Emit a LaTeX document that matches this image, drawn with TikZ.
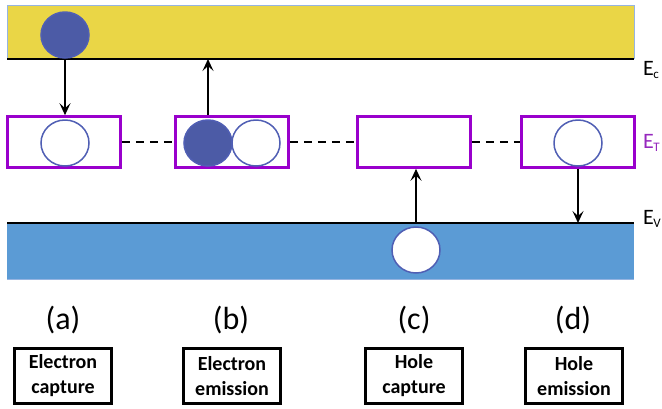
\documentclass[tikz,border=0pt]{standalone}
\usepackage{fontspec}
\setmainfont{Carlito}
\usetikzlibrary{arrows.meta,shapes.geometric}
\definecolor{bandyellow}{RGB}{234,214,70}
\definecolor{bandblue}{RGB}{91,155,213}
\definecolor{edgeblue}{RGB}{150,180,225}
\definecolor{elecfill}{RGB}{76,91,166}
\definecolor{elecline}{RGB}{80,95,180}
\definecolor{trapcol}{RGB}{153,0,204}
\definecolor{etcol}{RGB}{150,40,190}
\newcommand{\lvsub}[1]{\raisebox{-0.3ex}{\fontsize{13}{14}\selectfont #1}}
\tikzset{
  level/.style={line width=2.8pt, black},
  trapbox/.style={draw=trapcol, line width=2.6pt, minimum width=113pt, minimum height=51pt, inner sep=0pt, fill=white},
  hole/.style={ellipse, draw=elecline, line width=1.5pt, fill=white, minimum width=48pt, minimum height=46pt, inner sep=0pt},
  electron/.style={ellipse, draw=elecline, line width=1.5pt, fill=elecfill, minimum width=48pt, minimum height=46pt, inner sep=0pt},
  transition/.style={line width=2.2pt, -{Stealth[length=12pt,width=11pt,inset=5pt]}},
  trapline/.style={line width=2.6pt, dash pattern=on 8pt off 6pt},
  caselabel/.style={font=\fontsize{32}{36}\selectfont},
  kindbox/.style={draw, line width=2.2pt, minimum width=97pt, minimum height=55pt, align=center, inner sep=1pt, font=\bfseries\fontsize{20}{25}\selectfont},
  levellabel/.style={anchor=west, inner sep=0pt, font=\fontsize{22}{24}\selectfont}
}
\begin{document}
\begin{tikzpicture}[x=1pt,y=-1pt]
\useasboundingbox (0,0) rectangle (662,408);
% bands
\fill[bandyellow] (7,5) rectangle (634,59);
\draw[edgeblue, line width=0.8pt] (7,59) -- (7,5) -- (634,5) -- (634,59);
\fill[bandblue] (7,223) rectangle (634,279);
\draw[edgeblue, line width=0.8pt] (7,279) -- (634,279);
\coordinate (ecL) at (7,59);
\coordinate (ecR) at (634,59);
\coordinate (evL) at (7,223);
\coordinate (evR) at (634,223);
\draw[level] (ecL) -- (ecR);
\draw[level] (evL) -- (evR);
% level labels
\node[levellabel] (Ec) at (643,70) {E\kern-0.5pt\lvsub{c}};
\node[levellabel, text=etcol] (Et) at (643,143) {E\kern-0.5pt\lvsub{T}};
\node[levellabel] (Ev) at (643,219) {E\kern-0.5pt\lvsub{V}};
% trap boxes
\node[trapbox] (ta) at (64,142) {};
\node[trapbox] (tb) at (232,142) {};
\node[trapbox] (tc) at (414,142) {};
\node[trapbox] (td) at (578,142) {};
\draw[trapline] (ta.east) -- (tb.west);
\draw[trapline] (tb.east) -- (tc.west);
\draw[trapline] (tc.east) -- (td.west);
% carriers
\node[electron] (ea) at (65,35) {};
\node[hole] (ha) at (65,143) {};
\node[electron] (eb) at (208,143) {};
\node[hole] (hb) at (256,143) {};
\node[hole] (hd) at (578,143) {};
\node[hole] (hc) at (416,250) {};
% transition end points
\coordinate (ecA) at (ea.south |- ecL);
\coordinate (ecB) at (eb.north |- ecL);
\coordinate (evC) at (hc.north |- evL);
\coordinate (evD) at (hd.south |- evL);
\draw[transition] (ecA) -- (ta.north -| ecA);
\draw[transition] (tb.north -| ecB) -- (ecB);
\draw[transition] (evC) -- (tc.south -| evC);
\draw[transition] (td.south -| evD) -- (evD);
% case labels
\node[caselabel] (la) at (63,320) {(a)};
\node[caselabel] (lb) at (231,320) {(b)};
\node[caselabel] (lc) at (414,320) {(c)};
\node[caselabel] (ld) at (573,320) {(d)};
\node[kindbox] (ka) at (63,376) {Electron\\capture};
\node[kindbox] (kb) at (232,376) {Electron\\emission};
\node[kindbox] (kc) at (414,376) {Hole\\capture};
\node[kindbox] (kd) at (574,376) {Hole\\emission};
\end{tikzpicture}
\end{document}
